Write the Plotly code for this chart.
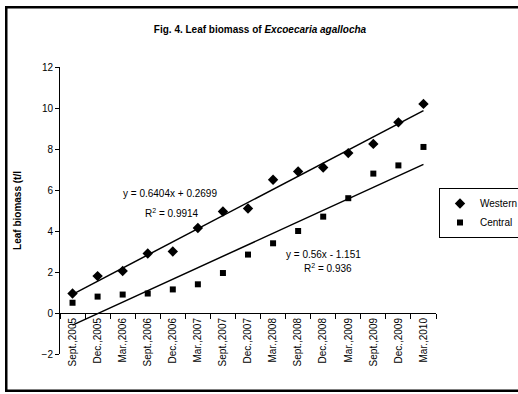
import plotly.graph_objects as go

categories = ["Sept.,2005", "Dec.,2005", "Mar.,2006", "Sept.,2006", "Dec.,2006",
              "Mar.,2007", "Sept.,2007", "Dec.,2007", "Mar.,2008", "Sept.,2008",
              "Dec.,2008", "Mar.,2009", "Sept.,2009", "Dec.,2009", "Mar.,2010"]
western = [0.95, 1.8, 2.05, 2.9, 3.0, 4.15, 4.95, 5.1, 6.5, 6.9, 7.1, 7.8, 8.25, 9.3, 10.2]
central = [0.5, 0.8, 0.9, 0.95, 1.15, 1.4, 1.95, 2.85, 3.4, 4.0, 4.7, 5.6, 6.8, 7.2, 8.1]

western_fit = (0.6404, 0.2699)
central_fit = (0.56, -1.151)

y_ticks = [-2, 0, 2, 4, 6, 8, 10, 12]

W, H = 518, 394
ML, MR, MT, MB = 60, 82, 67, 40
pw, ph = W - ML - MR, H - MT - MB
ymin, ymax = -2, 12

def trend(coef):
    a, b = coef
    return [a * (i + 1) + b for i in range(len(categories))]

def px_x(p):
    return (p - ML) / pw

def px_y(p):
    return (MT + ph - p) / ph

font = "Liberation Sans, Arial, sans-serif"
fig = go.Figure()
fig.add_trace(go.Scatter(x=categories, y=trend(western_fit), mode="lines",
                         line=dict(color="black", width=1.5), showlegend=False, hoverinfo="skip"))
fig.add_trace(go.Scatter(x=categories, y=trend(central_fit), mode="lines",
                         line=dict(color="black", width=1.5), showlegend=False, hoverinfo="skip"))
fig.add_trace(go.Scatter(x=categories, y=western, mode="markers", name="Western",
                         marker=dict(symbol="diamond", size=8, color="black")))
fig.add_trace(go.Scatter(x=categories, y=central, mode="markers", name="Central",
                         marker=dict(symbol="square", size=6, color="black")))

fig.update_layout(
    width=W, height=H,
    margin=dict(l=ML, r=MR, t=MT, b=MB, autoexpand=False),
    paper_bgcolor="white", plot_bgcolor="white",
    font=dict(family=font, size=10, color="black"),
    title=dict(text="<b>Fig. 4. Leaf biomass of <i>Excoecaria agallocha</i></b>",
               x=260 / W, xref="container", xanchor="center",
               y=1 - 29 / H, yref="container", yanchor="middle",
               font=dict(size=10, family=font)),
    xaxis=dict(type="category", range=[-0.5, len(categories) - 0.5],
               anchor="free", position=(0 - ymin) / (ymax - ymin), automargin=False,
               showline=True, linecolor="black", linewidth=1,
               ticks="outside", ticklen=5, tickcolor="black", tickson="boundaries",
               tickangle=-90, showgrid=False, zeroline=False,
               tickfont=dict(size=10)),
    yaxis=dict(range=[ymin, ymax], tickvals=y_ticks, showline=True, linecolor="black",
               linewidth=1, ticks="outside", ticklen=4, tickcolor="black", automargin=False,
               showgrid=False, zeroline=False, tickfont=dict(size=10),
               title=dict(text="<b>Leaf biomass (t/l</b>", font=dict(size=10), standoff=18)),
    legend=dict(x=px_x(439), xanchor="left", y=px_y(188), yanchor="top",
                bordercolor="black", borderwidth=1, bgcolor="white",
                font=dict(size=10), itemwidth=30, tracegroupgap=0),
    showlegend=True,
)

fig.add_annotation(x=3.9, y=5.85, text="y = 0.6404x + 0.2699", showarrow=False,
                   font=dict(size=10))
fig.add_annotation(x=3.95, y=4.9, text="R<sup>2</sup> = 0.9914", showarrow=False,
                   font=dict(size=10))
fig.add_annotation(x=10.0, y=2.83, text="y = 0.56x - 1.151", showarrow=False,
                   font=dict(size=10))
fig.add_annotation(x=10.2, y=2.2, text="R<sup>2</sup> = 0.936", showarrow=False,
                   font=dict(size=10))

# outer chart border drawn as thin filled bars
bx0, bx1, by0, by1 = 5, W + 4, 6, 392
bars = [(bx0, by0, bx1, by0 + 2.5),      # top
        (bx0, by1 - 2.5, bx1, by1),      # bottom
        (bx0, by0, bx0 + 2.5, by1)]      # left
for (xa, ya, xb, yb) in bars:
    fig.add_shape(type="rect", xref="paper", yref="paper",
                  x0=px_x(xa), y0=px_y(yb), x1=px_x(xb), y1=px_y(ya),
                  line=dict(width=0), fillcolor="black", layer="above")

fig.write_html("out.html", config={"displayModeBar": False},
               post_script="document.body.style.margin='0';document.body.style.overflow='hidden';")
